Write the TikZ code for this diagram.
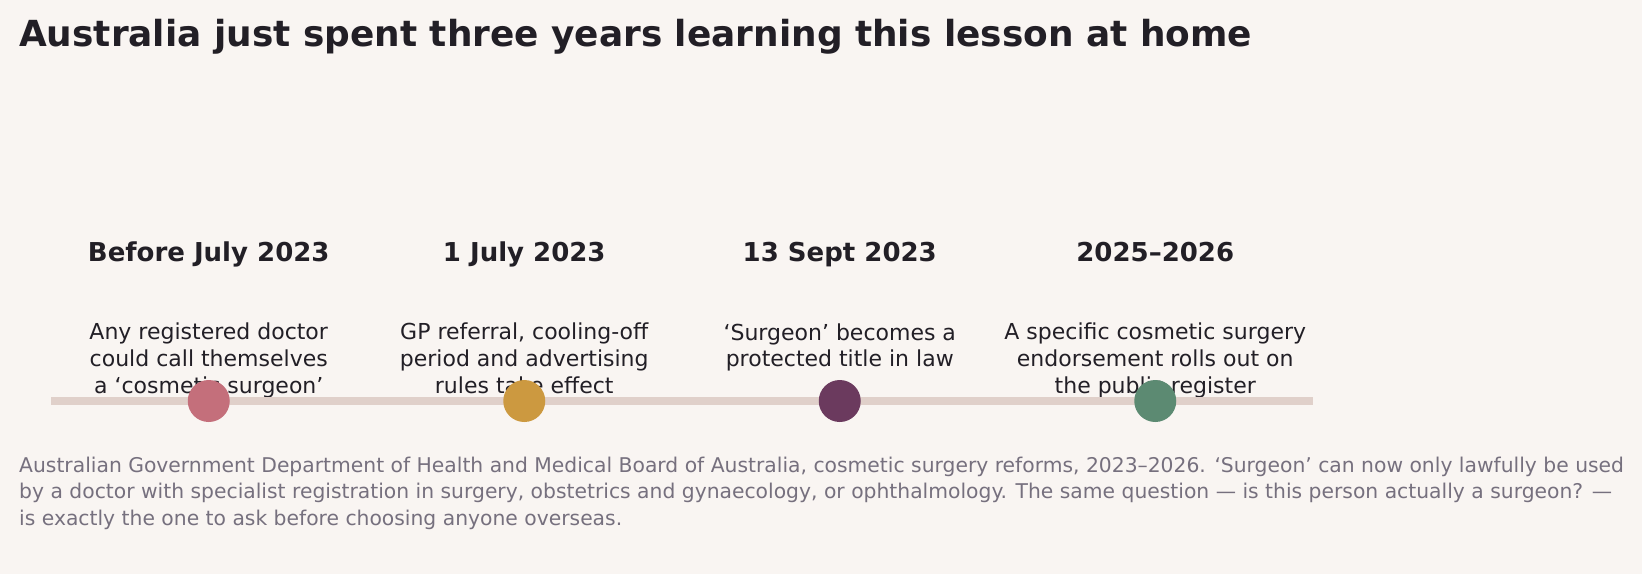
\documentclass[tikz,border=0pt]{standalone}
\usepackage{fontspec}
\setmainfont{DejaVu Sans}
\definecolor{bg}{HTML}{F9F5F2}
\definecolor{ink}{HTML}{221F26}
\definecolor{muted}{HTML}{76707E}
\definecolor{barc}{HTML}{E0D0CA}
\definecolor{cA}{HTML}{C46F7B}
\definecolor{cB}{HTML}{CC9940}
\definecolor{cC}{HTML}{6B3A5E}
\definecolor{cD}{HTML}{5C8A72}
\tikzset{
  head/.style={anchor=base, inner sep=0pt, text=ink, font=\fontsize{26}{31}\selectfont\bfseries},
  body/.style={anchor=base, inner sep=0pt, text=ink, align=center, font=\fontsize{22}{26.67}\selectfont},
  dot/.style={circle, inner sep=0pt, minimum size=42pt},
  barline/.style={draw=barc, line width=8.3pt}
}
\begin{document}
\begin{tikzpicture}[x=1pt,y=-1pt]
\fill[bg] (0,0) rectangle (1642,574);
\useasboundingbox (0,0) rectangle (1642,574);
\node[anchor=base west, inner sep=0pt, text=ink, font=\fontsize{35.9}{43}\selectfont\bfseries] (title) at (19,46.7) {Australia just spent three years learning this lesson at home};

\node[head] (h1) at (208.75,261) {Before July 2023};
\node[head] (h2) at (524.25,261) {1 July 2023};
\node[head] (h3) at (839.75,261) {13 Sept 2023};
\node[head] (h4) at (1155.25,261) {2025–2026};

\node[body] (b1) at (208.75,393.3) {Any registered doctor\\could call themselves\\a ‘cosmetic surgeon’};
\node[body] (b2) at (524.25,393.3) {GP referral, cooling-off\\period and advertising\\rules take effect};
\node[body] (b3) at (839.75,366.7) {‘Surgeon’ becomes a\\protected title in law};
\node[body] (b4) at (1155.25,393.3) {A specific cosmetic surgery\\endorsement rolls out on\\the public register};

\coordinate (barL) at (51,401);
\coordinate (barR) at (1313,401);
\draw[barline] (barL) -- (barR);

\node[dot, fill=cA] (d1) at (208.75,401) {};
\node[dot, fill=cB] (d2) at (524.25,401) {};
\node[dot, fill=cC] (d3) at (839.75,401) {};
\node[dot, fill=cD] (d4) at (1155.25,401) {};

\node[anchor=base west, inner sep=0pt, text=muted, align=left, font=\fontsize{20.3}{26.67}\selectfont] (cap) at (19,525.5) {Australian Government Department of Health and Medical Board of Australia, cosmetic surgery reforms, 2023–2026. ‘Surgeon’ can now only lawfully be used\\by a doctor with specialist registration in surgery, obstetrics and gynaecology, or ophthalmology. The same question — is this person actually a surgeon? —\\is exactly the one to ask before choosing anyone overseas.};
\end{tikzpicture}
\end{document}
